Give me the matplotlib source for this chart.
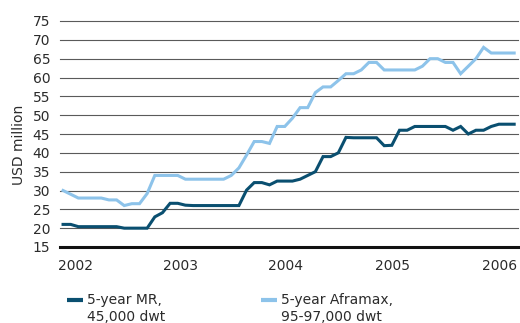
import matplotlib
matplotlib.use("Agg")
import matplotlib.pyplot as plt
from matplotlib.lines import Line2D
import numpy as np

# 5-year-old tanker prices, USD million
mr = [21, 21, 20.4, 20.4, 20.4, 20.4, 20.4, 20.4, 20, 20,
      20, 20, 23, 24.1, 26.6, 26.6, 26.1, 26, 26, 26,
      26, 26, 26, 26, 30.1, 32.1, 32.1, 31.5, 32.5, 32.5,
      32.5, 33, 34, 35, 39, 39, 40, 44.1, 44, 44,
      44, 44, 41.9, 42, 46, 46, 47, 47, 47, 47,
      47, 46, 47, 45, 46, 46, 47, 47.6, 47.6, 47.6]
aframax = [30, 29, 28, 28, 28, 28, 27.5, 27.5, 26, 26.5,
           26.5, 29.2, 34, 34, 34, 34, 33, 33, 33, 33,
           33, 33, 34, 36, 39.4, 43, 43, 42.5, 47, 47,
           49.2, 52, 52, 56, 57.5, 57.5, 59.2, 61, 61, 62,
           64, 64, 62, 62, 62, 62, 62, 63, 65, 65,
           64, 64, 61, 63, 65, 68, 66.5, 66.5, 66.5, 66.5]
year_labels = ["2002", "2003", "2004", "2005", "2006"]
year_pos = [1.6, 15.3, 29.1, 43.1, 57.1]
series_labels = ["5-year MR,\n45,000 dwt", "5-year Aframax,\n95-97,000 dwt"]

dark = "#0a4f70"
light = "#8dc3ea"
txt = "#2b2b2b"

plt.rcParams["font.family"] = ["DejaVu Sans"]

fig = plt.figure(figsize=(5.2, 3.23), dpi=100)
ax = fig.add_axes([60 / 520, 1 - 247 / 323, 458 / 520, 226 / 323])

x = np.arange(len(mr))
ax.plot(x, mr, color=dark, lw=2.2, solid_joinstyle="miter", zorder=3)
ax.plot(x, aframax, color=light, lw=2.2, solid_joinstyle="miter", zorder=3)

ax.set_xlim(-0.4, 59.5)
ax.set_ylim(15, 75)
ax.set_yticks(np.arange(15, 76, 5))
ax.set_xticks(year_pos)
ax.set_xticklabels(year_labels)
for v in range(20, 76, 5):
    ax.axhline(v, color="#5a5a5a", lw=0.8, zorder=1, clip_on=False)
ax.axhline(15, color="#111111", lw=2.2, zorder=2, clip_on=False)

for s in ax.spines.values():
    s.set_visible(False)
ax.tick_params(length=0, labelsize=10, colors=txt)
ax.tick_params(axis="y", pad=7)
ax.tick_params(axis="x", pad=9)
ax.set_ylabel("USD million", fontsize=10, color=txt)
ax.yaxis.set_label_coords(-0.074, 0.45)

# legend drawn by hand so the key sits on the first text line
for hx, tx, col, lab in [(67, 87, dark, series_labels[0]),
                         (261, 281, light, series_labels[1])]:
    fig.add_artist(Line2D([hx / 520, (hx + 16) / 520], [1 - 299.5 / 323] * 2,
                          color=col, lw=3, solid_capstyle="butt",
                          transform=fig.transFigure))
    fig.text(tx / 520, 1 - 308.5 / 323, lab, fontsize=10, color=txt,
             va="center", ha="left", linespacing=1.2)

fig.savefig("out.png", dpi=100)
